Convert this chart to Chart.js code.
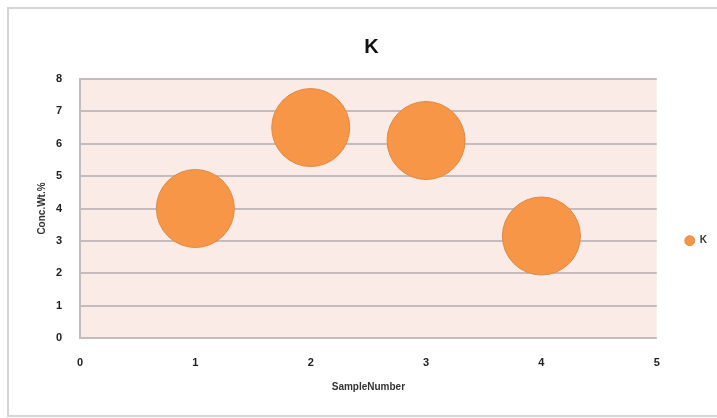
<!DOCTYPE html>
<html lang="en">
<head>
  <meta charset="UTF-8" />
  <title>K</title>
  <script src="https://cdn.jsdelivr.net/npm/chart.js"></script>
  <style>
    body { margin: 0; background: #fff; }
    #frame { position: absolute; left: 7px; top: 7px; width: 720px; height: 406px; border: 2px solid #d4d4d4; }
    #wrap { position: absolute; left: 0; top: 0; width: 717px; height: 418px; }
  </style>
</head>
<body>
  <div id="frame"></div>
  <div id="wrap"><canvas id="chart" width="717" height="418"></canvas></div>

  <script>
    // data
    const sampleNumbers = [1, 2, 3, 4];
    const concValues = [4.0, 6.5, 6.1, 3.15];
    const xTicks = [0, 1, 2, 3, 4, 5];
    const yTicks = [0, 1, 2, 3, 4, 5, 6, 7, 8];

    const plotBg = {
      id: 'plotBg',
      beforeDraw(chart) {
        const a = chart.chartArea;
        const c = chart.ctx;
        c.save();
        c.fillStyle = '#fbebe7';
        c.fillRect(a.left, a.top, a.right - a.left, a.bottom - a.top);
        c.restore();
      }
    };

    const tickFont = { family: 'Liberation Sans', size: 11, weight: 'bold' };

    new Chart(document.getElementById('chart'), {
      type: 'bubble',
      data: {
        datasets: [{
          label: 'K',
          data: sampleNumbers.map((x, i) => ({ x: x, y: concValues[i] })),
          backgroundColor: '#f79646',
          borderColor: '#df8a45',
          borderWidth: 1,
          radius: 39
        }]
      },
      options: {
        responsive: false,
        animation: false,
        layout: { padding: { left: 26, right: 0, top: 3, bottom: 0 } },
        plugins: {
          title: {
            display: true,
            text: 'K',
            color: '#111',
            font: { family: 'Liberation Sans', size: 20, weight: 'bold' },
            padding: { top: 32, bottom: 20 }
          },
          legend: {
            position: 'right',
            title: { display: true, text: '', padding: { top: 46, bottom: 0 } },
            labels: {
              usePointStyle: true,
              boxWidth: 10,
              boxHeight: 7,
              padding: 28,
              color: '#333',
              font: { family: 'Liberation Sans', size: 10, weight: 'bold' }
            }
          },
          tooltip: { enabled: false }
        },
        scales: {
          x: {
            type: 'linear',
            min: 0,
            max: 5,
            afterBuildTicks(s) { s.ticks = xTicks.map(v => ({ value: v })); },
            afterFit(s) { s.height = 80; },
            grid: { display: false },
            border: { display: false },
            ticks: { color: '#222', font: tickFont, padding: 10 },
            title: {
              display: true,
              text: 'SampleNumber',
              color: '#333',
              font: { family: 'Liberation Sans', size: 10, weight: 'bold' },
              padding: { top: 0, bottom: 25 }
            }
          },
          y: {
            min: 0,
            max: 8,
            afterBuildTicks(s) { s.ticks = yTicks.map(v => ({ value: v })); },
            afterFit(s) { s.width = 54; },
            grid: { color: '#c4bcbc', lineWidth: 2, drawTicks: false },
            border: { display: true, color: '#c4bcbc', width: 2 },
            ticks: { color: '#222', font: tickFont, padding: 18 },
            title: {
              display: true,
              text: 'Conc.Wt.%',
              color: '#333',
              font: { family: 'Liberation Sans', size: 10, weight: 'bold' },
              padding: { top: 10, bottom: 0 }
            }
          }
        }
      },
      plugins: [plotBg]
    });
  </script>
</body>
</html>
